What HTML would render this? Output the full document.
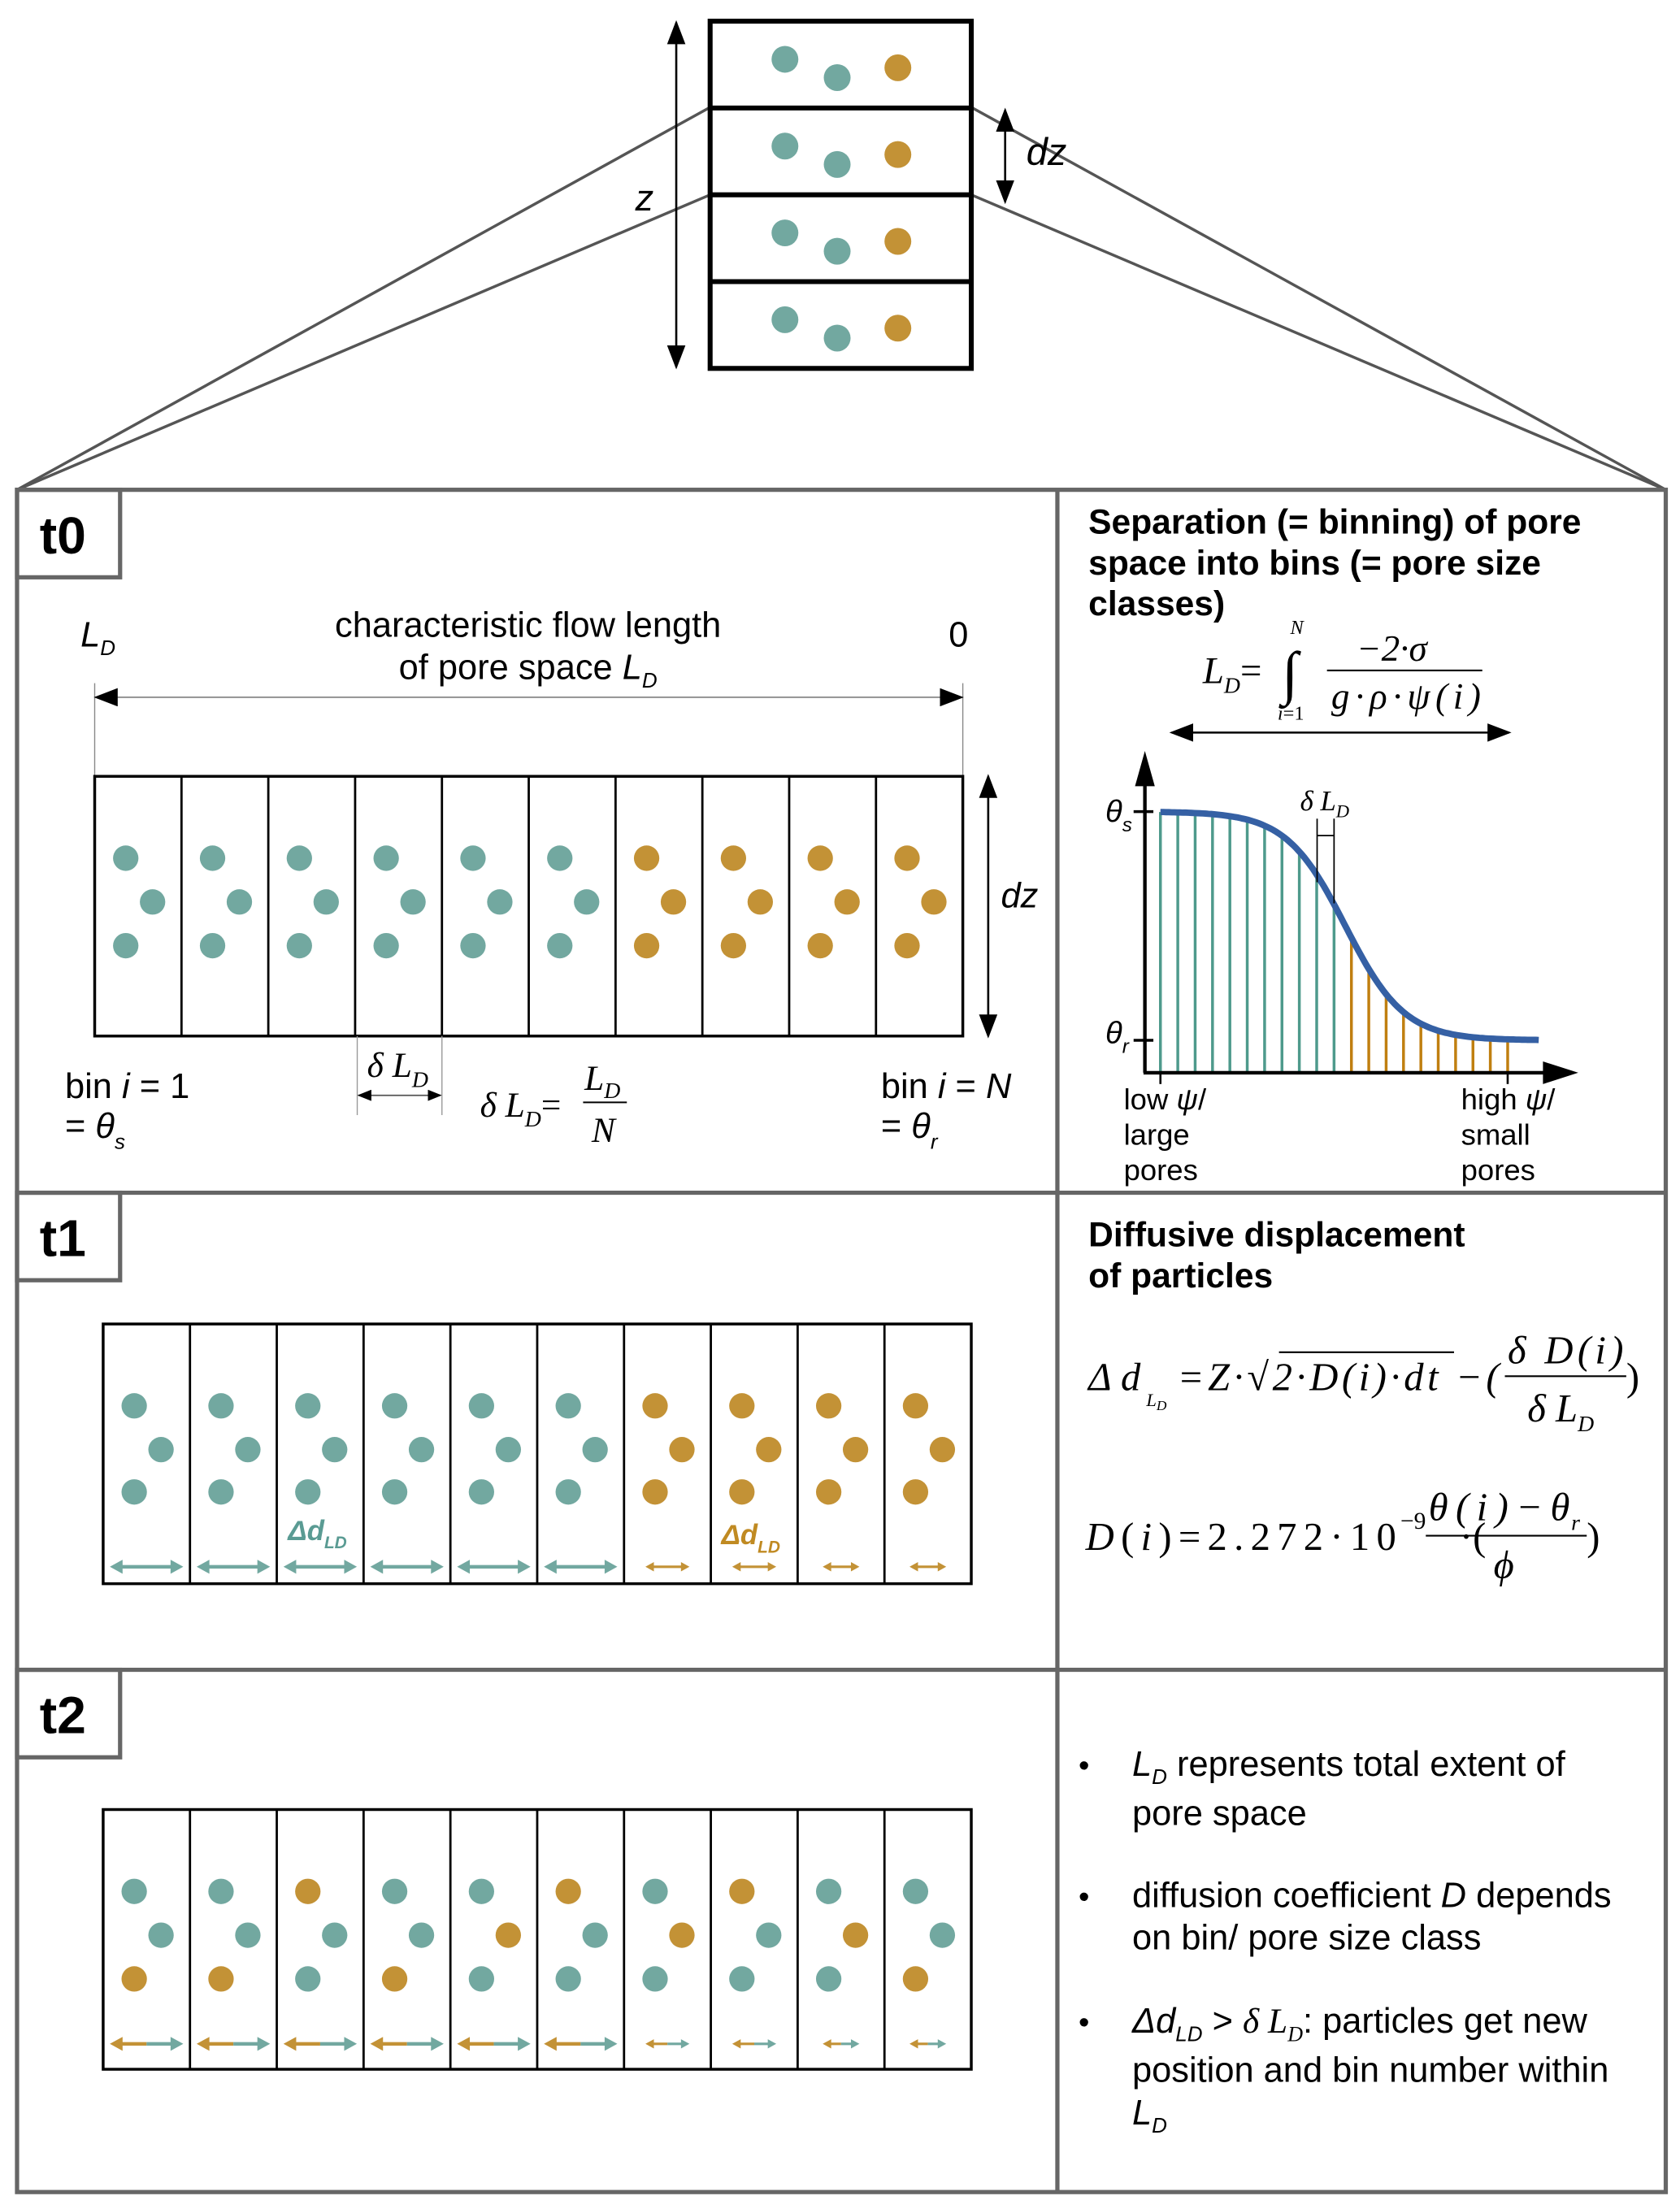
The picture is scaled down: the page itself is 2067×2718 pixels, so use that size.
<!DOCTYPE html>
<html><head><meta charset="utf-8"><style>
html,body{margin:0;padding:0;background:#fff;}
svg{display:block;}
text{font-family:"Liberation Sans",sans-serif;fill:#000;}
.m{font-family:"Liberation Serif",serif;font-style:italic;}
.r{font-family:"Liberation Serif",serif;}
</style></head><body>
<svg id="fig" width="2067" height="2718" viewBox="0 0 1190 1565" xmlns="http://www.w3.org/2000/svg">
<defs>
<marker id="ah" viewBox="0 0 10 10" refX="9" refY="5" markerUnits="userSpaceOnUse" markerWidth="17" markerHeight="13" orient="auto-start-reverse" preserveAspectRatio="none"><path d="M0,0 L10,5 L0,10 z" fill="#000"/></marker>
<marker id="ahs" viewBox="0 0 10 10" refX="9" refY="5" markerUnits="userSpaceOnUse" markerWidth="10" markerHeight="8" orient="auto-start-reverse" preserveAspectRatio="none"><path d="M0,0 L10,5 L0,10 z" fill="#000"/></marker>
</defs>

<g>
<line x1="503" y1="76" x2="12" y2="347" stroke="#555" stroke-width="2"/>
<line x1="503" y1="138" x2="12" y2="347" stroke="#555" stroke-width="2"/>
<line x1="688" y1="76" x2="1180" y2="347" stroke="#555" stroke-width="2"/>
<line x1="688" y1="138" x2="1180" y2="347" stroke="#555" stroke-width="2"/>
<rect x="503" y="15" width="185" height="246" fill="none" stroke="#000" stroke-width="3.5"/>
<line x1="503" y1="76.5" x2="688" y2="76.5" stroke="#000" stroke-width="3.5"/>
<line x1="503" y1="138" x2="688" y2="138" stroke="#000" stroke-width="3.5"/>
<line x1="503" y1="199.5" x2="688" y2="199.5" stroke="#000" stroke-width="3.5"/>
<g id="colDots"></g>
<line x1="479" y1="16" x2="479" y2="260" stroke="#000" stroke-width="1.5" marker-start="url(#ah)" marker-end="url(#ah)"/>
<text x="450" y="149" font-size="26" font-style="italic">z</text>
<line x1="712" y1="78" x2="712" y2="143" stroke="#000" stroke-width="1.5" marker-start="url(#ah)" marker-end="url(#ah)"/>
<text x="727" y="117" font-size="27" font-style="italic">dz</text>
</g>

<g stroke="#666" stroke-width="3" fill="none">
<rect x="12" y="347" width="1168" height="1206"/>
<line x1="749" y1="347" x2="749" y2="1553"/>
<line x1="12" y1="845" x2="1180" y2="845"/>
<line x1="12" y1="1183" x2="1180" y2="1183"/>
<rect x="12" y="347" width="73" height="62"/>
<rect x="12" y="845" width="73" height="62"/>
<rect x="12" y="1183" width="73" height="62"/>
</g>
<text x="28" y="392" font-size="37" font-weight="bold">t0</text>
<text x="28" y="890" font-size="37" font-weight="bold">t1</text>
<text x="28" y="1228" font-size="37" font-weight="bold">t2</text>

<g>
<text x="57" y="458" font-size="25" font-style="italic">L<tspan font-size="15" dy="6">D</tspan></text>
<text x="374" y="451" font-size="25" text-anchor="middle">characteristic flow length</text>
<text x="374" y="481" font-size="25" text-anchor="middle">of pore space <tspan font-style="italic">L</tspan><tspan font-size="15" dy="6" font-style="italic">D</tspan></text>
<text x="672" y="458" font-size="25">0</text>
<line x1="67" y1="484" x2="67" y2="550" stroke="#888" stroke-width="0.8"/>
<line x1="682" y1="484" x2="682" y2="550" stroke="#888" stroke-width="0.8"/>
<line x1="68" y1="494" x2="681" y2="494" stroke="#999" stroke-width="1.2" marker-start="url(#ah)" marker-end="url(#ah)"/>
<g id="t0bins"></g>
<line x1="700" y1="550" x2="700" y2="734" stroke="#000" stroke-width="1.5" marker-start="url(#ah)" marker-end="url(#ah)"/>
<text x="709" y="643" font-size="25" font-style="italic">dz</text>
<text x="46" y="778" font-size="25">bin <tspan font-style="italic">i</tspan> = 1</text>
<text x="46" y="806" font-size="25">= <tspan font-style="italic">θ</tspan><tspan font-size="15" dy="8" font-style="italic">s</tspan></text>
<line x1="253" y1="734" x2="253" y2="790" stroke="#999" stroke-width="0.8"/>
<line x1="313" y1="734" x2="313" y2="790" stroke="#999" stroke-width="0.8"/>
<line x1="254" y1="776" x2="312" y2="776" stroke="#555" stroke-width="1" marker-start="url(#ahs)" marker-end="url(#ahs)"/>
<text x="260" y="763" font-size="25" class="m">δ L<tspan font-size="16" dy="7">D</tspan></text>
<text x="340" y="791" font-size="25" class="m">δ L<tspan font-size="16" dy="7">D</tspan><tspan dy="-7" class="r" font-style="normal">=</tspan></text>
<text x="414" y="772" font-size="25" class="m">L<tspan font-size="16" dy="6">D</tspan></text>
<line x1="413" y1="781" x2="444" y2="781" stroke="#000" stroke-width="1.2"/>
<text x="419" y="809" font-size="25" class="m">N</text>
<text x="624" y="778" font-size="25">bin <tspan font-style="italic">i</tspan> = <tspan font-style="italic">N</tspan></text>
<text x="624" y="806" font-size="25">= <tspan font-style="italic">θ</tspan><tspan font-size="15" dy="8" font-style="italic">r</tspan></text>
</g>

<g>
<text x="771" y="378" font-size="24.5" font-weight="bold">Separation (= binning) of pore</text>
<text x="771" y="407" font-size="24.5" font-weight="bold">space into bins (= pore size</text>
<text x="771" y="436" font-size="24.5" font-weight="bold">classes)</text>
<text x="852" y="484" font-size="27" class="m">L<tspan font-size="16" dy="7">D</tspan><tspan dy="-7" class="r" font-style="normal">=</tspan></text>
<text x="908" y="491" font-size="42" class="r">∫</text>
<text x="914" y="449" font-size="14" class="m">N</text>
<text x="905" y="510" font-size="14" class="m">i<tspan class="r" font-style="normal">=1</tspan></text>
<text x="961" y="468" font-size="26" class="m">−2·σ</text>
<line x1="940" y1="475" x2="1050" y2="475" stroke="#000" stroke-width="1.2"/>
<text x="943" y="502" font-size="26" class="m" textLength="106">g·ρ·ψ(i)</text>
<line x1="830" y1="519" x2="1069" y2="519" stroke="#000" stroke-width="1.5" marker-start="url(#ah)" marker-end="url(#ah)"/>
<g id="curveChart"></g>
<text x="783" y="582" font-size="22" font-style="italic">θ<tspan font-size="14" dy="7">s</tspan></text>
<text x="783" y="739" font-size="22" font-style="italic">θ<tspan font-size="14" dy="7">r</tspan></text>
<text x="921" y="574" font-size="20" class="m">δ L<tspan font-size="13" dy="5">D</tspan></text>
<text x="796" y="786" font-size="21">low <tspan font-style="italic">ψ</tspan>/</text>
<text x="796" y="811" font-size="21">large</text>
<text x="796" y="836" font-size="21">pores</text>
<text x="1035" y="786" font-size="21">high <tspan font-style="italic">ψ</tspan>/</text>
<text x="1035" y="811" font-size="21">small</text>
<text x="1035" y="836" font-size="21">pores</text>
</g>

<g id="t1bins"></g>
<text x="204" y="1091" font-size="20" font-weight="bold" font-style="italic" style="fill:#5a9b93">Δd<tspan font-size="12" dy="6">LD</tspan></text>
<text x="511" y="1094" font-size="20" font-weight="bold" font-style="italic" style="fill:#c08a22">Δd<tspan font-size="12" dy="6">LD</tspan></text>
<g>
<text x="771" y="883" font-size="24.5" font-weight="bold">Diffusive displacement</text>
<text x="771" y="912" font-size="24.5" font-weight="bold">of particles</text>
<text x="771" y="985" font-size="28" class="m">Δ d</text>
<text x="812" y="996" font-size="13" class="m">L<tspan font-size="10" dy="3">D</tspan></text>
<text x="834" y="985" font-size="28" class="m" textLength="228" lengthAdjust="spacing">=Z·√2·D(i)·dt −(</text>
<line x1="906" y1="958" x2="1030" y2="958" stroke="#000" stroke-width="1.2"/>
<text x="1068" y="966" font-size="28" class="m" textLength="82" lengthAdjust="spacing">δ D(i)</text>
<line x1="1066" y1="975" x2="1152" y2="975" stroke="#000" stroke-width="1.2"/>
<text x="1082" y="1007" font-size="28" class="m">δ L<tspan font-size="16" dy="7">D</tspan></text>
<text x="1152" y="985" font-size="28" class="r">)</text>
<text x="769" y="1098" font-size="28" class="r" textLength="220" lengthAdjust="spacing"><tspan font-style="italic">D</tspan>(<tspan font-style="italic">i</tspan>)=2.272·10</text>
<text x="992" y="1083" font-size="17" class="r">−9</text>
<text x="1034" y="1098" font-size="28" class="r">·(</text>
<text x="1012" y="1077" font-size="28" class="m" textLength="100" lengthAdjust="spacing">θ(i)−θ</text>
<text x="1113" y="1084" font-size="16" class="m">r</text>
<line x1="1010" y1="1088" x2="1124" y2="1088" stroke="#000" stroke-width="1.2"/>
<text x="1058" y="1118" font-size="28" class="m">ϕ</text>
<text x="1124" y="1098" font-size="28" class="r">)</text>
</g>

<g id="t2bins"></g>
<g>
<text x="764" y="1258" font-size="22">•</text>
<text x="802" y="1258" font-size="25"><tspan font-style="italic">L</tspan><tspan font-size="15" dy="6" font-style="italic">D</tspan><tspan dy="-6"> represents total extent of</tspan></text>
<text x="802" y="1293" font-size="25">pore space</text>
<text x="764" y="1351" font-size="22">•</text>
<text x="802" y="1351" font-size="25">diffusion coefficient <tspan font-style="italic">D</tspan> depends</text>
<text x="802" y="1381" font-size="25">on bin/ pore size class</text>
<text x="764" y="1440" font-size="22">•</text>
<text x="802" y="1440" font-size="25"><tspan font-style="italic">Δd</tspan><tspan font-size="15" dy="6" font-style="italic">LD</tspan><tspan dy="-6"> &gt; </tspan><tspan class="m">δ L</tspan><tspan class="m" font-size="15" dy="6">D</tspan><tspan dy="-6">: particles get new</tspan></text>
<text x="802" y="1475" font-size="25">position and bin number within</text>
<text x="802" y="1505" font-size="25" font-style="italic">L<tspan font-size="15" dy="6">D</tspan></text>
</g>
</svg>
<script>
const TEAL="#72a8a0", ORANGE="#c39236";
const binCount=10;
const t0Colors=["t","t","t","t","t","t","o","o","o","o"];
const t1ArrowSize=[1,1,1,1,1,1,0.6,0.6,0.5,0.5];
const t2Colors=[["t","t","o"],["t","t","o"],["o","t","t"],["t","t","o"],["t","o","t"],["o","t","t"],["t","o","t"],["o","t","t"],["t","o","t"],["t","t","o"]];
const t2ArrowSize=[1,1,1,1,1,1,0.6,0.6,0.5,0.5];
const curveLines=21, tealLines=11;
const thetaS=1.0, thetaR=0.0;
const NS="http://www.w3.org/2000/svg";
function mk(tag,attrs,parent){const e=document.createElementNS(NS,tag);for(const k in attrs)e.setAttribute(k,attrs[k]);parent.appendChild(e);return e;}
const col=c=>c==="t"?TEAL:ORANGE;

const cd=document.getElementById("colDots");
for(let r=0;r<4;r++){const y0=r*61.5;
 [[556,42,"t"],[593,55,"t"],[636,48,"o"]].forEach(d=>{const c=mk("circle",{cx:d[0],cy:d[1]+y0,r:9.5,fill:col(d[2])},cd);
 
 });}

function drawBins(g,x0,y0,h,w,colorsFn,arrowFn,dotY){
 mk("rect",{x:x0,y:y0,width:w*binCount,height:h,fill:"none",stroke:"#000","stroke-width":2},g);
 for(let i=1;i<binCount;i++)mk("line",{x1:x0+i*w,y1:y0,x2:x0+i*w,y2:y0+h,stroke:"#000","stroke-width":1.6},g);
 for(let i=0;i<binCount;i++){const bx=x0+i*w;const cs=colorsFn(i);
  [[22,0],[41,1],[22,2]].forEach((p,k)=>{const c=mk("circle",{cx:bx+p[0],cy:dotY[p[1]],r:9,fill:col(cs[k])},g);
   
   });
  if(arrowFn)arrowFn(g,bx,w,i);}
}
drawBins(document.getElementById("t0bins"),67,550,184,61.5,i=>[t0Colors[i],t0Colors[i],t0Colors[i]],null,[608,639,670]);

function arrow(g,x1,x2,y,c,sw){mk("line",{x1:x1,y1:y,x2:x2,y2:y,stroke:c,"stroke-width":sw},g);}
function head(g,x,y,dir,c,s){mk("path",{d:`M${x},${y} L${x-dir*s},${y-s*0.55} L${x-dir*s},${y+s*0.55} z`,fill:c},g);}
drawBins(document.getElementById("t1bins"),73,938,184,61.5,i=>[t0Colors[i],t0Colors[i],t0Colors[i]],(g,bx,w,i)=>{
 const s=t1ArrowSize[i],c=col(t0Colors[i]),cx=bx+w/2,half=26*s,hs=s>0.8?9:6;
 arrow(g,cx-half+3,cx+half-3,1110,c,s>0.8?2.5:1.8);head(g,cx+half,1110,1,c,hs);head(g,cx-half,1110,-1,c,hs);
},[996,1027,1057]);
drawBins(document.getElementById("t2bins"),73,1282,184,61.5,i=>t2Colors[i],(g,bx,w,i)=>{
 const s=t2ArrowSize[i],cx=bx+w/2,half=26*s,hs=s>0.8?9:6,sw=s>0.8?2.5:1.8;
 arrow(g,cx-half+3,cx,1448,ORANGE,sw);arrow(g,cx,cx+half-3,1448,TEAL,sw);
 head(g,cx-half,1448,-1,ORANGE,hs);head(g,cx+half,1448,1,TEAL,hs);
},[1340,1371,1402]);

const ch=document.getElementById("curveChart");
const xStart=822,xEnd=1068,yS=575,yR=737,yAxis=760;
const yScale=v=>yR-(v-thetaR)/(thetaS-thetaR)*(yR-yS);
function theta(x){return 1/(1+Math.exp((x-953)/21));}
for(let i=0;i<curveLines;i++){const x=xStart+i*(xEnd-xStart)/(curveLines-1);
 const l=mk("line",{x1:x,y1:yAxis,x2:x,y2:yScale(theta(x)),stroke:i<tealLines?"#4e9a8c":"#c07f10","stroke-width":2},ch);
 
 }
let d="";for(let x=822;x<=1090;x+=2){d+=(d?"L":"M")+x+","+yScale(theta(x)).toFixed(1);}
const cp=mk("path",{d:d,fill:"none",stroke:"#3560a4","stroke-width":4.5},ch);


mk("line",{x1:811,y1:yAxis,x2:811,y2:548,stroke:"#000","stroke-width":2.5},ch);
mk("path",{d:"M811,532 L804,557 L818,557 z",fill:"#000"},ch);
mk("line",{x1:810,y1:yAxis,x2:1100,y2:yAxis,stroke:"#000","stroke-width":2.5},ch);
mk("path",{d:"M1118,760 L1093,752 L1093,768 z",fill:"#000"},ch);
mk("line",{x1:803,y1:yS,x2:817,y2:yS,stroke:"#000","stroke-width":2},ch);
mk("line",{x1:803,y1:yR,x2:817,y2:yR,stroke:"#000","stroke-width":2},ch);
mk("line",{x1:822,y1:760,x2:822,y2:768,stroke:"#000","stroke-width":1.5},ch);
mk("line",{x1:1068,y1:760,x2:1068,y2:768,stroke:"#000","stroke-width":1.5},ch);
mk("line",{x1:933,y1:580,x2:933,y2:625,stroke:"#000","stroke-width":1},ch);
mk("line",{x1:945,y1:580,x2:945,y2:640,stroke:"#000","stroke-width":1},ch);
mk("line",{x1:933,y1:592,x2:945,y2:592,stroke:"#000","stroke-width":1},ch);
</script>
</body></html>
